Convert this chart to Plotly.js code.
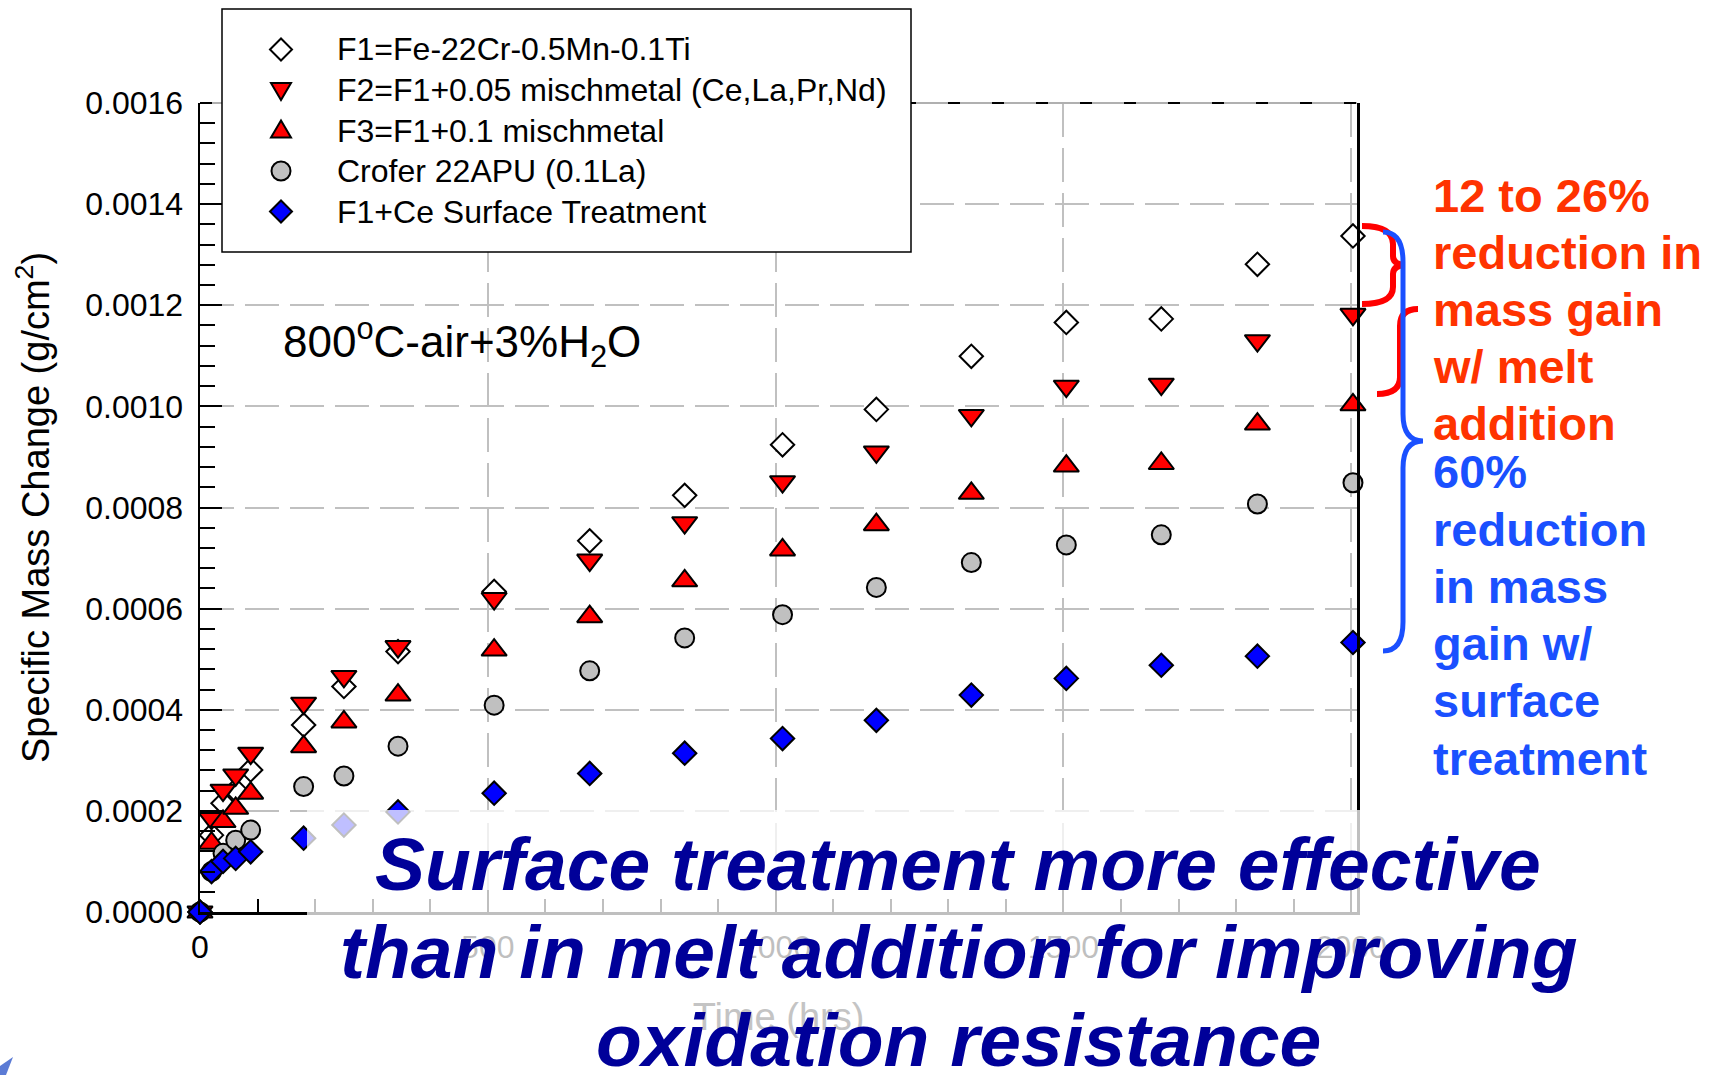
<!DOCTYPE html>
<html>
<head>
<meta charset="utf-8">
<script src="https://cdn.plot.ly/plotly-3.0.1.min.js"></script>
<style>
  html, body { margin: 0; padding: 0; background: #ffffff; }
  #chart { width: 1717px; height: 1075px; }
</style>
</head>
<body>
<div id="chart"></div>
<script>
// ---- data ----
const timeHrs = [0, 20, 40, 62, 88, 180, 250, 344, 511, 677, 842, 1012, 1175, 1340, 1505, 1670, 1837, 2003];
const f1Base   = [0, 0.000152, 0.000215, 0.000241, 0.000281, 0.000370, 0.000446, 0.000515, 0.000634, 0.000734, 0.000824, 0.000924, 0.000994, 0.001099, 0.001166, 0.001173, 0.001281, 0.001337];
const f2Misch05 = [0, 0.000185, 0.000241, 0.000271, 0.000314, 0.000413, 0.000466, 0.000525, 0.000620, 0.000696, 0.000770, 0.000851, 0.000910, 0.000982, 0.001040, 0.001044, 0.001130, 0.001182];
const f3Misch10 = [0, 0.000136, 0.000179, 0.000205, 0.000235, 0.000327, 0.000376, 0.000429, 0.000518, 0.000584, 0.000655, 0.000716, 0.000766, 0.000828, 0.000882, 0.000887, 0.000965, 0.001003];
const crofer22  = [0, 0.000080, 0.000116, 0.000142, 0.000162, 0.000248, 0.000269, 0.000328, 0.000409, 0.000477, 0.000542, 0.000588, 0.000642, 0.000691, 0.000726, 0.000746, 0.000807, 0.000849];
const f1CeSurf  = [0, 0.000080, 0.000100, 0.000106, 0.000119, 0.000146, 0.000172, 0.000198, 0.000235, 0.000274, 0.000314, 0.000343, 0.000379, 0.000429, 0.000462, 0.000488, 0.000506, 0.000533];

const seriesNames = [
  'F1=Fe-22Cr-0.5Mn-0.1Ti',
  'F2=F1+0.05 mischmetal (Ce,La,Pr,Nd)',
  'F3=F1+0.1 mischmetal',
  'Crofer 22APU (0.1La)',
  'F1+Ce Surface Treatment'
];
const conditionText = '800<sup>o</sup>C-air+3%H<sub>2</sub>O';
const meltLines = ['12 to 26%', 'reduction in', 'mass gain', 'w/ melt', 'addition'];
const surfLines = ['60%', 'reduction', 'in mass', 'gain w/', 'surface', 'treatment'];
const messageLines = ['Surface treatment more effective', 'than in melt addition for improving', 'oxidation resistance'];
const xTitle = 'Time (hrs)';
const yTitle = 'Specific Mass Change (g/cm<sup>2</sup>)';

// ---- layout helpers (pixel -> paper) ----
const W = 1717, H = 1075;
const PL = 200, PR = 1357, PT = 103, PB = 912;
function px(x) { return (x - PL) / (PR - PL); }
function py(y) { return (PB - y) / (PB - PT); }
function pathPx(cmds) {
  return cmds.map(c => typeof c === 'string' ? c : (px(c[0]).toFixed(5) + ',' + py(c[1]).toFixed(5))).join(' ');
}
const FONT = 'Liberation Sans, Arial, Helvetica, sans-serif';

const outline = { color: '#000000', width: 2 };
const styles = [
  { symbol: 'diamond',       size: 18, color: '#ffffff', line: outline },
  { symbol: 'triangle-down', size: 22, color: '#ff0000', line: outline },
  { symbol: 'triangle-up',   size: 22, color: '#ff0000', line: outline },
  { symbol: 'circle',        size: 19, color: '#c0c0c0', line: outline },
  { symbol: 'diamond',       size: 18, color: '#0000ff', line: outline }
];
const values = [f1Base, f2Misch05, f3Misch10, crofer22, f1CeSurf];

const traces = values.map((v, i) => ({
  type: 'scatter', mode: 'markers', x: timeHrs, y: v, name: seriesNames[i],
  marker: styles[i], cliponaxis: false, hoverinfo: 'x+y+name', showlegend: false
}));

const annotations = [];
const shapes = [];

// top frame: gray line with black dashes
shapes.push({ type: 'line', xref: 'paper', yref: 'paper', x0: 0, x1: 1, y0: 1, y1: 1, line: { color: '#b0b0b0', width: 2 }, layer: 'above' });
shapes.push({ type: 'line', xref: 'paper', yref: 'paper', x0: 0, x1: 1, y0: 1, y1: 1, line: { color: '#000000', width: 2, dash: '12px,32px' }, layer: 'above' });

// ---- legend box (drawn as keys + labels) ----
const LB = { x0: 222, x1: 911, y0: 9, y1: 252 };
shapes.push({ type: 'rect', xref: 'paper', yref: 'paper', x0: px(LB.x0), x1: px(LB.x1), y0: py(LB.y1), y1: py(LB.y0),
  fillcolor: '#ffffff', line: { color: '#000000', width: 1.5 }, layer: 'above' });
const keyX = 281, textX = 335, rowY0 = 49.5, rowStep = 40.5;
seriesNames.forEach((name, i) => {
  const cy = rowY0 + i * rowStep;
  const st = styles[i];
  const ln = { color: '#000000', width: 2 };
  let key;
  if (st.symbol === 'diamond') {
    const r = 11;
    key = { type: 'path', path: pathPx(['M', [keyX - r, cy], 'L', [keyX, cy - r], 'L', [keyX + r, cy], 'L', [keyX, cy + r], 'Z']) };
  } else if (st.symbol === 'triangle-down') {
    key = { type: 'path', path: pathPx(['M', [keyX - 10, cy - 7], 'L', [keyX + 10, cy - 7], 'L', [keyX, cy + 10], 'Z']) };
  } else if (st.symbol === 'triangle-up') {
    key = { type: 'path', path: pathPx(['M', [keyX - 10, cy + 7], 'L', [keyX + 10, cy + 7], 'L', [keyX, cy - 10], 'Z']) };
  } else {
    key = { type: 'circle', x0: px(keyX - 9.5), x1: px(keyX + 9.5), y0: py(cy + 9.5), y1: py(cy - 9.5) };
  }
  Object.assign(key, { xref: 'paper', yref: 'paper', fillcolor: st.color, line: ln, layer: 'above' });
  shapes.push(key);
  annotations.push({
    xref: 'paper', yref: 'paper', x: px(textX), y: py(cy), xanchor: 'left', yanchor: 'middle',
    text: name, showarrow: false, font: { family: FONT, size: 32, color: '#000000' }
  });
});

// condition label
annotations.push({
  xref: 'paper', yref: 'paper', x: px(281), y: py(342), xanchor: 'left', yanchor: 'middle',
  text: conditionText, showarrow: false, font: { family: FONT, size: 44, color: '#000000' }
});

// side notes
const sideFs = 47;
meltLines.forEach((t, i) => {
  const base = 212 + i * 56.9;
  annotations.push({
    xref: 'paper', yref: 'paper', x: px(1431), y: py(base - 0.3465 * sideFs), xanchor: 'left', yanchor: 'middle',
    text: '<b>' + t + '</b>', showarrow: false, font: { family: FONT, size: sideFs, color: '#ff3300' }
  });
});
surfLines.forEach((t, i) => {
  const base = 488 + i * 57.3;
  annotations.push({
    xref: 'paper', yref: 'paper', x: px(1431), y: py(base - 0.3465 * sideFs), xanchor: 'left', yanchor: 'middle',
    text: '<b>' + t + '</b>', showarrow: false, font: { family: FONT, size: sideFs, color: '#1a50ff' }
  });
});

// braces
const redBraceA = pathPx(['M', [1362, 226], 'Q', [1393, 226], [1393, 244], 'L', [1393, 256], 'Q', [1393, 264], [1404, 265],
  'Q', [1393, 266], [1393, 274], 'L', [1393, 287], 'Q', [1393, 304], [1362, 304]]);
const redBraceB = pathPx(['M', [1418, 309], 'Q', [1400, 309], [1400, 326], 'L', [1400, 377], 'Q', [1400, 394], [1377, 394]]);
const blueBrace = pathPx(['M', [1383, 232], 'Q', [1403, 232], [1403, 262], 'L', [1403, 414], 'Q', [1403, 441], [1423, 441],
  'Q', [1403, 441], [1403, 468], 'L', [1403, 622], 'Q', [1403, 651], [1383, 651]]);
shapes.push({ type: 'path', xref: 'paper', yref: 'paper', path: redBraceA, line: { color: '#ff0000', width: 6 }, layer: 'above' });
shapes.push({ type: 'path', xref: 'paper', yref: 'paper', path: redBraceB, line: { color: '#ff0000', width: 6 }, layer: 'above' });
shapes.push({ type: 'path', xref: 'paper', yref: 'paper', path: blueBrace, line: { color: '#1a50ff', width: 5 }, layer: 'above' });

// translucent white panel behind the message
shapes.push({ type: 'rect', xref: 'paper', yref: 'paper', x0: px(307), x1: px(1470), y0: py(H), y1: py(810),
  fillcolor: 'rgba(255,255,255,0.75)', line: { width: 0 }, layer: 'above' });
// slide decoration in the bottom-left corner
shapes.push({ type: 'path', xref: 'paper', yref: 'paper', path: pathPx(['M', [0, 1075], 'L', [0, 1066], 'L', [13, 1057], 'L', [6, 1075], 'Z']),
  fillcolor: '#5b7bd5', line: { width: 0 }, layer: 'above' });

// message
const msgFs = 75;
messageLines.forEach((t, i) => {
  const base = 890 + i * 88;
  annotations.push({
    xref: 'paper', yref: 'paper', x: px(958), y: py(base - 0.3465 * msgFs), xanchor: 'center', yanchor: 'middle',
    text: t, showarrow: false,
    font: { family: FONT, size: msgFs, color: '#000099', weight: 'bold', style: 'italic' }
  });
});

const layout = {
  width: W, height: H,
  margin: { l: PL, r: W - PR, t: PT, b: H - PB, pad: 0 },
  paper_bgcolor: '#ffffff', plot_bgcolor: '#ffffff',
  font: { family: FONT, size: 32, color: '#000000' },
  showlegend: false,
  xaxis: {
    range: [0, 2010], tickmode: 'linear', tick0: 0, dtick: 500,
    ticks: 'inside', ticklen: 22, tickwidth: 2, tickcolor: '#000000',
    minor: { tickmode: 'linear', tick0: 0, dtick: 100, ticks: 'inside', ticklen: 13, tickwidth: 2, tickcolor: '#000000', showgrid: false },
    showline: true, linecolor: '#000000', linewidth: 2.5, mirror: false,
    showgrid: true, gridcolor: '#c0c0c0', gridwidth: 2, griddash: '34px,11px',
    zeroline: false, ticklabelstandoff: 5, tickfont: { family: FONT, size: 32, color: '#000000' },
    title: { text: xTitle, font: { family: FONT, size: 38, color: '#c4c4c4' }, standoff: 40 }
  },
  yaxis: {
    range: [0, 0.0016], tickmode: 'linear', tick0: 0, dtick: 0.0002, tickformat: '.4f',
    ticks: 'inside', ticklen: 22, tickwidth: 2, tickcolor: '#000000',
    minor: { tickmode: 'linear', tick0: 0, dtick: 0.00004, ticks: 'inside', ticklen: 15, tickwidth: 2, tickcolor: '#000000', showgrid: false },
    showline: true, linecolor: '#000000', linewidth: 2.5, mirror: true,
    showgrid: true, gridcolor: '#c0c0c0', gridwidth: 2, griddash: '34px,11px',
    zeroline: false, ticklabelstandoff: 8, tickfont: { family: FONT, size: 32, color: '#000000' },
    title: { text: yTitle, font: { family: FONT, size: 38, color: '#000000' }, standoff: 24 }
  },
  annotations: annotations,
  shapes: shapes
};

Plotly.newPlot('chart', traces, layout, { staticPlot: true, displayModeBar: false });
</script>
</body>
</html>
